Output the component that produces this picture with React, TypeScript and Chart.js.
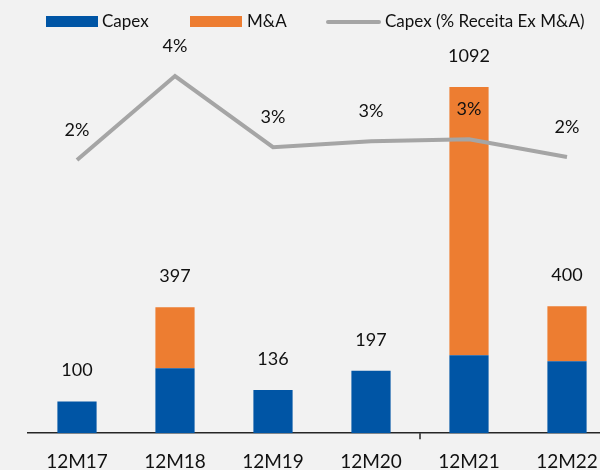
import React, { useEffect, useRef } from "react";
import { Chart, registerables } from "chart.js";

Chart.register(...registerables);

const categories = ["12M17", "12M18", "12M19", "12M20", "12M21", "12M22"];
const capex = [100, 205, 136, 197, 246, 227];
const ma = [0, 192, 0, 0, 846, 173];
const capexPct = [2.3, 4.0, 2.56, 2.68, 2.72, 2.36];

const BLUE = "#0055A5";
const ORANGE = "#ED7D31";
const GRAY = "#A5A5A5";
const FONT = "Lato, 'Open Sans', sans-serif";

const labelPlugin = {
  id: "valueLabels",
  afterDatasetsDraw(chart: any) {
    const ctx = chart.ctx;
    const x = chart.scales.x;
    const y = chart.scales.y;
    ctx.save();
    ctx.font = `18px ${FONT}`;
    ctx.fillStyle = "#111111";
    ctx.textAlign = "center";
    ctx.textBaseline = "middle";
    categories.forEach((_, i) => {
      const total = capex[i] + ma[i];
      ctx.fillText(String(total), x.getPixelForValue(i), y.getPixelForValue(total) - 31);
    });
    const lineMeta = chart.getDatasetMeta(2);
    lineMeta.data.forEach((pt: any, i: number) => {
      ctx.fillText(Math.round(capexPct[i]) + "%", pt.x, pt.y - 30);
    });
    const tx = (x.getPixelForTick(3) + x.getPixelForTick(4)) / 2;
    const b = chart.chartArea.bottom;
    ctx.strokeStyle = "#262626";
    ctx.lineWidth = 1.5;
    ctx.beginPath();
    ctx.moveTo(tx, b);
    ctx.lineTo(tx, b + 6);
    ctx.stroke();
    ctx.restore();
  },
};

export default function App() {
  const ref = useRef<HTMLCanvasElement | null>(null);

  useEffect(() => {
    if (!ref.current) return;
    const chart = new Chart(ref.current, {
      type: "bar",
      data: {
        labels: categories,
        datasets: [
          {
            type: "bar",
            label: "Capex",
            data: capex,
            backgroundColor: BLUE,
            yAxisID: "y",
            stack: "s",
            order: 1,
          },
          {
            type: "bar",
            label: "M&A",
            data: ma,
            backgroundColor: ORANGE,
            yAxisID: "y",
            stack: "s",
            order: 1,
          },
          {
            type: "line",
            label: "Capex (% Receita Ex M&A)",
            data: capexPct,
            borderColor: GRAY,
            backgroundColor: GRAY,
            borderWidth: 4,
            pointRadius: 0,
            tension: 0,
            yAxisID: "y2",
            order: 0,
          } as any,
        ],
      },
      options: {
        responsive: false,
        animation: false,
        layout: { padding: { left: 28, right: 4, top: 40, bottom: 2 } },
        datasets: {
          bar: { categoryPercentage: 1, barPercentage: 0.4 },
        },
        plugins: {
          legend: { display: false },
          tooltip: { enabled: false },
        },
        scales: {
          x: {
            stacked: true,
            grid: { display: false, drawTicks: false },
            border: { display: true, color: "#262626", width: 1.5 },
            ticks: {
              color: "#111111",
              font: { family: FONT, size: 19 },
              padding: 17,
              maxRotation: 0,
            },
          },
          y: {
            stacked: true,
            display: false,
            min: 0,
            max: 1240,
          },
          y2: {
            display: false,
            min: -3.23,
            max: 4.73,
          },
        },
      },
      plugins: [labelPlugin],
    });
    return () => chart.destroy();
  }, []);

  const legendText: React.CSSProperties = {
    position: "absolute",
    top: 10,
    fontFamily: FONT,
    fontSize: 17,
    lineHeight: "22px",
    color: "#111111",
    whiteSpace: "nowrap",
  };

  return (
    <div
      style={{
        position: "fixed",
        left: 0,
        top: 0,
        width: 600,
        height: 470,
        overflow: "hidden",
        background: "#F2F2F2",
      }}
    >
      <canvas ref={ref} width={620} height={492} style={{ position: "absolute", left: 0, top: 0 }} />
      <div style={{ position: "absolute", left: 46, top: 16, width: 52, height: 11, background: BLUE }} />
      <div style={{ ...legendText, left: 102 }}>Capex</div>
      <div style={{ position: "absolute", left: 190, top: 16, width: 52, height: 11, background: ORANGE }} />
      <div style={{ ...legendText, left: 247 }}>M&amp;A</div>
      <div style={{ position: "absolute", left: 326, top: 19.5, width: 55, height: 4, background: GRAY, borderRadius: 2 }} />
      <div style={{ ...legendText, left: 385 }}>Capex (% Receita Ex M&amp;A)</div>
    </div>
  );
}
